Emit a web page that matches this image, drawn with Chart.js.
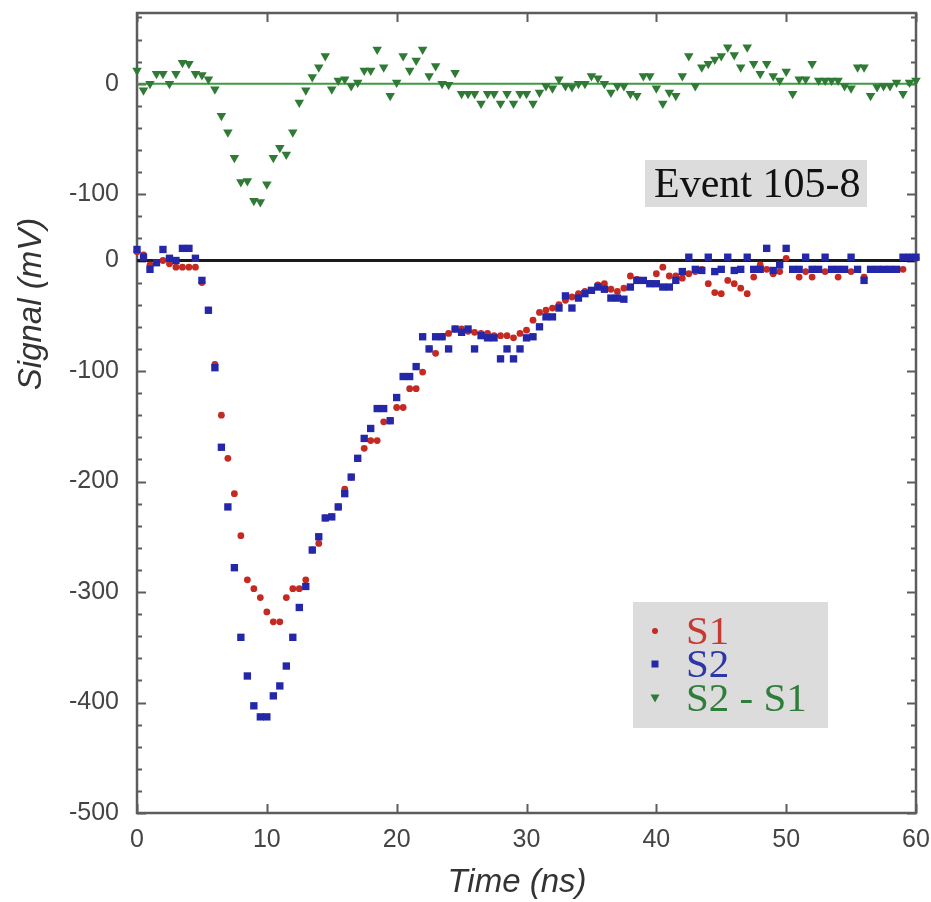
<!DOCTYPE html>
<html><head><meta charset="utf-8">
<script src="https://cdn.jsdelivr.net/npm/chart.js@4.4.1/dist/chart.umd.min.js"></script>
<style>html,body{margin:0;padding:0;background:#fff;} #wrap{width:931px;height:902px;}</style>
</head><body><div id="wrap"><canvas id="c" width="931" height="902"></canvas></div>
<script>
const timeNs = [0,0.5,1,1.5,2,2.5,3,3.5,4,4.5,5,5.5,6,6.5,7,7.5,8,8.5,9,9.5,10,10.5,11,11.5,12,12.5,13,13.5,14,14.5,15,15.5,16,16.5,17,17.5,18,18.5,19,19.5,20,20.5,21,21.5,22,22.5,23,23.5,24,24.5,25,25.5,26,26.5,27,27.5,28,28.5,29,29.5,30,30.5,31,31.5,32,32.5,33,33.5,34,34.5,35,35.5,36,36.5,37,37.5,38,38.5,39,39.5,40,40.5,41,41.5,42,42.5,43,43.5,44,44.5,45,45.5,46,46.5,47,47.5,48,48.5,49,49.5,50,50.5,51,51.5,52,52.5,53,53.5,54,54.5,55,55.5,56,56.5,57,57.5,58,58.5,59,59.5,60];
const s1 = [8,5,-4,-2,0,-3,-6,-6,-6,-6,-20,-45,-94,-140,-179,-211,-249,-289,-297,-305,-318,-327,-327,-305,-297,-297,-289,-262,-256,-233,-232,-223,-207,-196,-179,-170,-163,-163,-146,-145,-133,-133,-116,-116,-101,-80,-84,-69,-66,-62,-62,-64,-65,-66,-66,-68,-68,-68,-70,-66,-63,-54,-47,-45,-43,-40,-36,-33,-30,-28,-27,-22,-21,-26,-28,-25,-14,-17,-18,-21,-12,-6,-14,-14,-16,-12,-10,-8,-21,-29,-30,-18,-21,-25,-30,-15,-4,-8,-12,-10,2,-8,-15,-10,-15,-8,-10,-8,-15,-8,-10,-8,-15,-8,-8,-8,-8,-8,-8,3,2];
const s2 = [10,3,-8,-2,10,2,0,11,11,2,-18,-45,-97,-169,-223,-278,-341,-376,-403,-413,-413,-394,-385,-367,-341,-314,-295,-262,-250,-233,-232,-223,-211,-196,-179,-161,-152,-134,-134,-145,-124,-105,-105,-96,-69,-80,-69,-69,-80,-62,-65,-62,-80,-68,-70,-70,-89,-80,-89,-80,-70,-69,-60,-51,-51,-43,-32,-43,-34,-30,-27,-24,-26,-34,-34,-35,-24,-18,-18,-21,-21,-24,-24,-18,-10,3,-8,-9,3,-10,-8,3,-9,-8,3,-8,-8,11,-9,-4,11,-8,-8,3,-8,-8,3,-8,-8,-8,3,-8,-18,-8,-8,-8,-8,-8,3,3,3];
const diff = [12,-6,0,9,9,0,9,19,18,9,8,4,-5,-29,-44,-67,-89,-88,-106,-107,-91,-67,-58,-64,-44,-17,-6,6,15,25,-5,3,4,-2,1,12,12,31,15,-11,1,25,12,21,31,7,16,0,-1,10,-9,-9,-9,-18,-9,-9,-18,-9,-18,-9,-9,-18,-8,-2,-4,4,-2,-3,0,0,7,5,0,-8,-2,-2,-9,-11,7,7,-4,-18,-8,-11,7,25,-2,15,18,22,25,33,26,15,33,18,9,18,7,3,11,-9,4,4,18,3,3,3,3,-2,-4,15,15,-11,-3,-2,-2,1,-9,1,3];
const diffOffset = 160;           // S2 - S1 trace is drawn shifted up by 160 mV
const baseLineX = [0, 60];
const yTickValues = [-500,-400,-300,-200,-100,0,60,160];
const yTickLabels = ['-500','-400','-300','-200','-100','0','-100','0'];
const xTickValues = [0,10,20,30,40,50,60];
const yMinorStep = 20;
const legendLabels = ['S1','S2','S2 - S1'];
const eventLabel = 'Event 105-8';
const xTitle = 'Time (ns)';
const yTitle = 'Signal (mV)';

const RED = '#c42a22', BLUE = '#2327a8', GREEN = '#2f7a34';
const AXIS = '#5c5c5c';

const pts = (xs, ys, off) => xs.map((x, i) => ({x, y: ys[i] + (off || 0)}));

const decor = {
  id: 'decor',
  beforeDatasetsDraw(chart) {
    const {ctx, chartArea: a, scales: {x, y}} = chart;
    ctx.save();
    ctx.strokeStyle = AXIS;
    ctx.lineWidth = 2;
    ctx.beginPath();
    for (let v = -500; v <= y.max; v += yMinorStep) {
      const py = Math.round(y.getPixelForValue(v)) + 0.5;
      const len = yTickValues.includes(v) ? 9 : 5;
      ctx.moveTo(a.left, py); ctx.lineTo(a.left + len, py);
      ctx.moveTo(a.right, py); ctx.lineTo(a.right - len, py);
    }
    xTickValues.forEach(v => {
      const px = Math.round(x.getPixelForValue(v)) + 0.5;
      ctx.moveTo(px, a.top); ctx.lineTo(px, a.top + 9);
      ctx.moveTo(px, a.bottom); ctx.lineTo(px, a.bottom - 9);
    });
    ctx.stroke();
    ctx.lineWidth = 2.5;
    ctx.strokeRect(a.left, a.top, a.right - a.left, a.bottom - a.top);
    ctx.restore();
  },
  afterDraw(chart) {
    const {ctx} = chart;
    ctx.save();
    ctx.fillStyle = '#333';
    ctx.font = 'italic 33px "Liberation Sans", Arial, sans-serif';
    ctx.textAlign = 'center';
    ctx.textBaseline = 'middle';
    ctx.fillText(xTitle, 517, 883);
    ctx.save();
    ctx.translate(32, 304);
    ctx.rotate(-Math.PI / 2);
    ctx.fillText(yTitle, 0, 0);
    ctx.restore();

    ctx.fillStyle = '#dcdcdc';
    ctx.fillRect(645, 160, 222, 47);
    ctx.fillStyle = '#111';
    ctx.font = '42px "Liberation Serif", "Times New Roman", serif';
    ctx.textAlign = 'left';
    ctx.textBaseline = 'alphabetic';
    ctx.fillText(eventLabel, 654, 197);

    ctx.fillStyle = '#dcdcdc';
    ctx.fillRect(633, 602, 195, 126);
    const rows = [631, 664, 698];
    const cols = [RED, BLUE, GREEN];
    const txtCols = ['#c63a34', '#2d35a8', '#2f7d3a'];
    ctx.font = '41px "Liberation Serif", "Times New Roman", serif';
    rows.forEach((ry, i) => {
      const mx = 655;
      ctx.fillStyle = cols[i];
      ctx.beginPath();
      if (i === 0) { ctx.arc(mx, ry, 3, 0, Math.PI * 2); }
      else if (i === 1) { ctx.rect(mx - 3.5, ry - 3.5, 7, 7); }
      else { ctx.moveTo(mx - 4.5, ry - 3.5); ctx.lineTo(mx + 4.5, ry - 3.5); ctx.lineTo(mx, ry + 4.5); ctx.closePath(); }
      ctx.fill();
      ctx.fillStyle = txtCols[i];
      ctx.textBaseline = 'alphabetic';
      ctx.fillText(legendLabels[i], 686, ry + 13);
    });
    ctx.restore();
  }
};

new Chart(document.getElementById('c'), {
  type: 'scatter',
  data: {
    datasets: [
      { label: 'S2', data: pts(timeNs, s2), pointStyle: 'rect', pointRadius: 5.2, backgroundColor: BLUE, borderWidth: 0, order: 1, clip: false },
      { label: 'S1', data: pts(timeNs, s1), pointStyle: 'circle', pointRadius: 3.4, backgroundColor: RED, borderWidth: 0, order: 2, clip: false },
      { label: 'S2 - S1', data: pts(timeNs, diff, diffOffset), pointStyle: 'triangle', pointRotation: 180, pointRadius: 5.5, backgroundColor: GREEN, borderWidth: 0, order: 2, clip: false },
      { label: 'zero', type: 'line', data: pts(baseLineX, [0, 0]), borderColor: '#1a1a1a', borderWidth: 3, pointRadius: 0, order: 3 },
      { label: 'zero2', type: 'line', data: pts(baseLineX, [0, 0], diffOffset), borderColor: '#3f9a40', borderWidth: 2, pointRadius: 0, order: 3 }
    ]
  },
  options: {
    responsive: false,
    animation: false,
    devicePixelRatio: 1,
    layout: { padding: { top: 13, right: 15, bottom: 0, left: 0 } },
    plugins: { legend: { display: false }, tooltip: { enabled: false } },
    scales: {
      x: {
        type: 'linear', min: 0, max: 60,
        afterBuildTicks: s => { s.ticks = xTickValues.map(v => ({value: v})); },
        afterFit: s => { s.height = 89; s.paddingLeft = 0; s.paddingRight = 0; },
        grid: { display: false, drawTicks: false },
        border: { display: false },
        ticks: { padding: 12, color: '#444', font: { family: '"Liberation Sans", Arial, sans-serif', size: 25 }, maxRotation: 0 }
      },
      y: {
        type: 'linear', min: -500, max: 224,
        afterBuildTicks: s => { s.ticks = yTickValues.map(v => ({value: v})); },
        afterFit: s => { s.width = 137; s.paddingTop = 0; s.paddingBottom = 0; },
        grid: { display: false, drawTicks: false },
        border: { display: false },
        ticks: {
          padding: 18, color: '#444',
          font: { family: '"Liberation Sans", Arial, sans-serif', size: 25 },
          callback: (v) => { const i = yTickValues.indexOf(v); return i >= 0 ? yTickLabels[i] : ''; }
        }
      }
    }
  },
  plugins: [decor]
});
</script>
</body></html>
